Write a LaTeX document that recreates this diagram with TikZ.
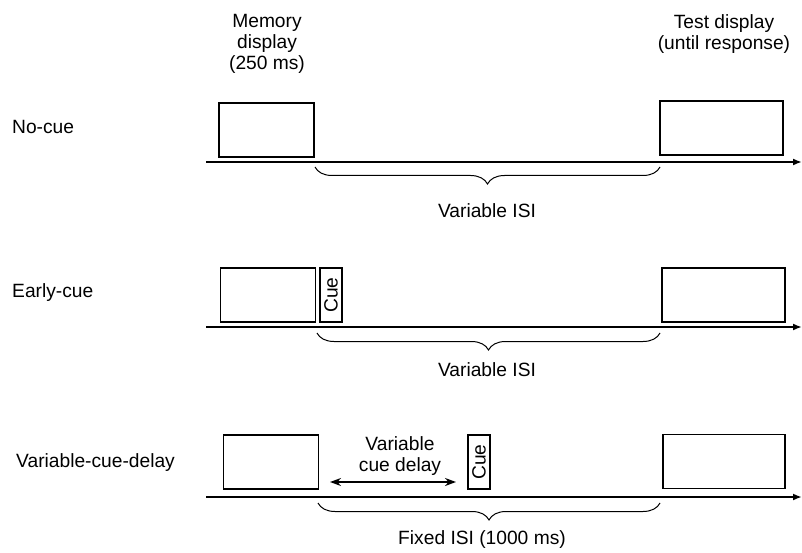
\documentclass[tikz,border=0pt]{standalone}
\usepackage{fontspec}
\setmainfont{Liberation Sans}
\usetikzlibrary{decorations.pathreplacing,arrows.meta}
\begin{document}
\begin{tikzpicture}[x=1pt, y=-1pt,
	every node/.style={font=\fontsize{19.2}{21}\selectfont, inner sep=0pt},
	screen/.style={draw, line width=1.2pt, minimum height=54pt},
	cuebox/.style={draw, line width=1.2pt, minimum width=22pt, minimum height=54pt},
	timeline/.style={line width=2.6pt, -{Latex[length=9pt, width=7pt]}},
	isi/.style={line width=1pt, decorate, decoration={brace, mirror, amplitude=17pt, aspect=0.5}}]
	\useasboundingbox (0,0) rectangle (802,553);
	% headers
	\node[align=center] (memhead) at (267,44) {Memory\\display\\(250 ms)};
	\node[align=center] (testhead) at (724,34) {Test display\\(until response)};
	% no-cue
	\node[anchor=west] (lab1) at (12,127) {No-cue};
	\node[screen, minimum width=95pt] (mem1) at (266.5,130) {};
	\node[screen, minimum width=123pt] (test1) at (721.5,128) {};
	\coordinate (s1) at (206,162);
	\coordinate (e1) at (802,162);
	\draw[timeline] (s1) -- (e1);
	\coordinate (b1l) at (315,167);
	\coordinate (b1r) at (660,167);
	\draw[isi] (b1l) -- (b1r);
	\node (isi1) at (487,211) {Variable ISI};
	% early-cue
	\node[anchor=west] (lab2) at (12,293) {Early-cue};
	\node[screen, minimum width=95pt] (mem2) at (268,295) {};
	\node[cuebox] (cue2) at (331,295) {\rotatebox{90}{Cue}};
	\node[screen, minimum width=123pt] (test2) at (723.5,295) {};
	\coordinate (s2) at (206,327);
	\coordinate (e2) at (802,327);
	\draw[timeline] (s2) -- (e2);
	\coordinate (b2l) at (317,333);
	\coordinate (b2r) at (660,333);
	\draw[isi] (b2l) -- (b2r);
	\node (isi2) at (487,370) {Variable ISI};
	% variable-cue-delay
	\node[anchor=west] (lab3) at (16,463) {Variable-cue-delay};
	\node[screen, minimum width=95pt] (mem3) at (271,462) {};
	\node[cuebox] (cue3) at (479,462) {\rotatebox{90}{Cue}};
	\node[screen, minimum width=122pt] (test3) at (724,461.5) {};
	\node[align=center] (delay) at (400,456) {Variable\\cue delay};
	\coordinate (d1) at (330,482);
	\coordinate (d2) at (456,482);
	\draw[line width=1.8pt, {Stealth[length=11pt, width=8pt]}-{Stealth[length=11pt, width=8pt]}] (d1) -- (d2);
	\coordinate (s3) at (206,497);
	\coordinate (e3) at (802,497);
	\draw[timeline] (s3) -- (e3);
	\coordinate (b3l) at (318,503);
	\coordinate (b3r) at (660,503);
	\draw[isi] (b3l) -- (b3r);
	\node (isi3) at (482,540) {Fixed ISI (1000 ms)};
\end{tikzpicture}
\end{document}
